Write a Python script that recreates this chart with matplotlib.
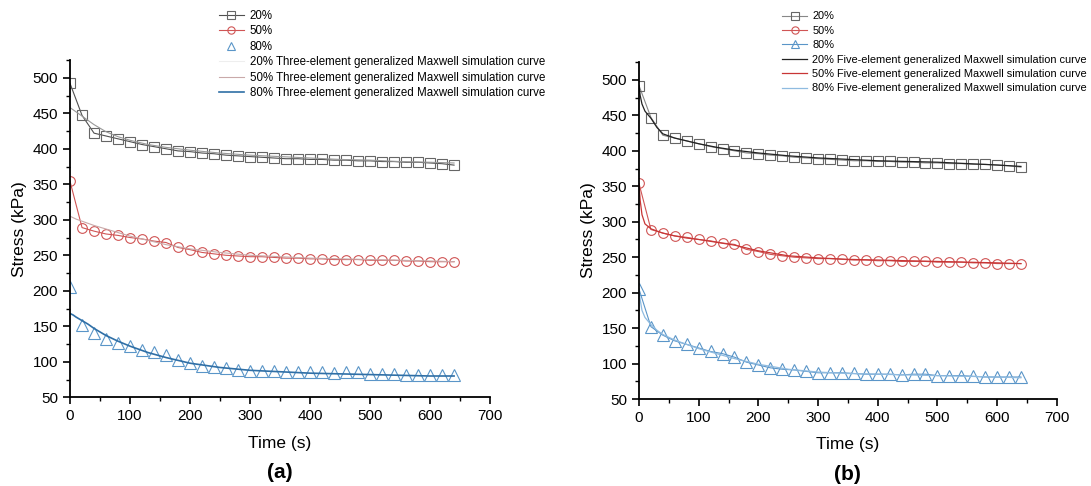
import matplotlib as mpl
mpl.use("Agg")
import matplotlib.pyplot as plt
from matplotlib.ticker import MultipleLocator

plt.rcParams['font.family'] = ['Liberation Sans', 'DejaVu Sans']

# measured data (both panels share it)
t_data = [0, 20, 40, 60, 80, 100, 120, 140, 160, 180, 200, 220, 240, 260, 280, 300, 320,
          340, 360, 380, 400, 420, 440, 460, 480, 500, 520, 540, 560, 580, 600, 620, 640]
s20 = [492, 447, 422, 418, 414, 410, 406, 403, 400, 397, 396, 394, 393, 391, 390, 389, 388,
       387, 386, 386, 385, 385, 384, 384, 383, 383, 382, 382, 381, 381, 380, 379, 377]
s50 = [354, 289, 284, 280, 278, 275, 273, 270, 268, 261, 258, 254, 252, 250, 249, 248, 248,
       247, 246, 246, 245, 245, 244, 244, 244, 243, 243, 243, 242, 242, 241, 241, 241]
s80 = [205, 152, 140, 132, 127, 122, 117, 114, 109, 102, 98, 94, 92, 91, 89, 87, 87,
       87, 86, 85, 85, 85, 84, 85, 85, 83, 83, 83, 82, 81, 81, 81, 81]

# three-element model curves (a)
t_fit3 = [0, 5, 10, 20, 30, 40, 60, 80, 100, 130, 160, 200, 250, 300, 350, 400, 450, 500, 550, 600, 640]
fit3_20 = [458, 455, 452, 446, 440, 434, 424, 417, 412, 406, 402, 398, 394, 391, 389, 387, 385, 384, 382, 381, 380]
fit3_50 = [305, 303, 301, 298, 295, 292, 287, 282, 277, 271, 265, 259, 254, 250, 248, 246, 245, 244, 243, 242, 241]
fit3_80 = [168, 166, 163, 158, 153, 147, 137, 129, 122, 113, 106, 98, 92, 88, 86, 84, 83, 82, 81, 80, 80]

# five-element model curves (b)
t_fit5 = [0, 2, 5, 10, 20, 30, 40, 60, 80, 100, 130, 160, 200, 250, 300, 350, 400, 450, 500, 550, 600, 640]
fit5_20 = [492, 478, 466, 456, 446, 433, 424, 418, 414, 410, 405, 401, 397, 393, 390, 388, 386, 385, 384, 382, 380, 378]
fit5_50 = [354, 330, 310, 297, 290, 287, 284, 280, 277, 275, 271, 267, 259, 252, 249, 247, 246, 245, 244, 243, 242, 241]
fit5_80 = [205, 190, 175, 165, 155, 147, 141, 133, 127, 121, 114, 107, 99, 92, 88, 86, 85, 84, 83, 82, 81, 80]

c_red = '#d05555'
c_blue = '#5a95c8'

fig = plt.figure(figsize=(10.91, 4.86), dpi=100)
ax1 = fig.add_axes([0.0642, 0.1825, 0.385, 0.694])
ax2 = fig.add_axes([0.5857, 0.179, 0.3829, 0.693])

def style(ax, tag):
  ax.set_xlim(0, 700)
  ax.set_ylim(50, 525)
  ax.spines['top'].set_visible(False)
  ax.spines['right'].set_visible(False)
  ax.spines['left'].set_linewidth(1.3)
  ax.spines['bottom'].set_linewidth(1.3)
  ax.xaxis.set_major_locator(MultipleLocator(100))
  ax.xaxis.set_minor_locator(MultipleLocator(50))
  ax.yaxis.set_major_locator(MultipleLocator(50))
  ax.yaxis.set_minor_locator(MultipleLocator(25))
  ax.tick_params(which='major', length=5, width=1.2, labelsize=11)
  ax.tick_params(which='minor', length=3, width=1.0)
  ax.set_xlabel("Time (s)", fontsize=12.5, labelpad=9)
  ax.set_ylabel("Stress (kPa)", fontsize=12.5, labelpad=4)
  ax.text(0.5, -0.224, tag, transform=ax.transAxes, ha='center', va='center',
          fontsize=15, fontweight='bold')

leg_kw = dict(loc='upper left', bbox_transform=fig.transFigure, frameon=False,
              handlelength=2.2, borderpad=0, handletextpad=0.5, markerscale=0.75)

# (a)
ax1.plot(t_data, s20, '-', color='#505050', lw=0.8, marker='s', ms=7, mfc='none', mec='#666666', mew=0.8, label='20%')
ax1.plot(t_data, s50, '-', color=c_red, lw=0.8, marker='o', ms=7, mfc='none', mec=c_red, mew=0.8, label='50%')
ax1.plot(t_data, s80, 'none', marker='^', ms=8, mfc='none', mec=c_blue, mew=0.8, label='80%')
ax1.plot(t_fit3, fit3_20, '-', color='#999999', lw=0.8, label='20% Three-element generalized Maxwell simulation curve')
ax1.plot(t_fit3, fit3_50, '-', color='#c9a9a9', lw=0.8, label='50% Three-element generalized Maxwell simulation curve')
ax1.plot(t_fit3, fit3_80, '-', color='#2f6fa6', lw=1.2, label='80% Three-element generalized Maxwell simulation curve')
style(ax1, '(a)')
leg1 = ax1.legend(bbox_to_anchor=(213 / 1091, 1 - 4 / 486), fontsize=8.3, labelspacing=0.3, **leg_kw)
leg1.get_lines()[3].set_color('#eeeeee')

# (b)
ax2.plot(t_data, s20, '-', color='#888888', lw=0.8, marker='s', ms=7, mfc='none', mec='#666666', mew=0.8, label='20%')
ax2.plot(t_data, s50, '-', color=c_red, lw=0.8, marker='o', ms=7, mfc='none', mec=c_red, mew=0.8, label='50%')
ax2.plot(t_data, s80, '-', color=c_blue, lw=0.8, marker='^', ms=8, mfc='none', mec=c_blue, mew=0.8, label='80%')
ax2.plot(t_fit5, fit5_20, '-', color='#222222', lw=0.9, label='20% Five-element generalized Maxwell simulation curve')
ax2.plot(t_fit5, fit5_50, '-', color='#c83535', lw=0.9, label='50% Five-element generalized Maxwell simulation curve')
ax2.plot(t_fit5, fit5_80, '-', color='#8fbbe0', lw=0.9, label='80% Five-element generalized Maxwell simulation curve')
style(ax2, '(b)')
ax2.legend(bbox_to_anchor=(777 / 1091, 1 - 6 / 486), fontsize=7.9, labelspacing=0.4, **leg_kw)

fig.savefig("out.png", dpi=100)
